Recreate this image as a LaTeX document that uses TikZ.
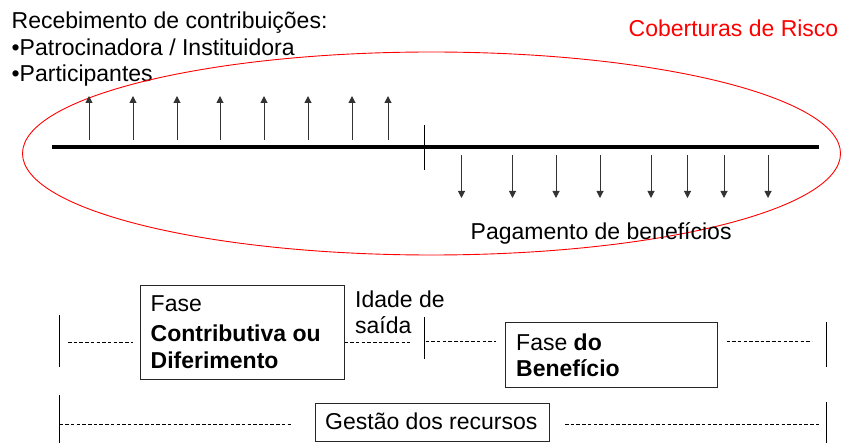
\documentclass[tikz,border=0pt]{standalone}
\usepackage{fontspec}
\setmainfont{Liberation Sans}
\usetikzlibrary{arrows.meta,shapes.geometric}
\begin{document}
\begin{tikzpicture}[x=1pt,y=-1pt,
  txt/.style={font=\fontsize{23}{27}\selectfont, inner sep=0pt, anchor=base west},
  up/.style={draw=black!80, line width=1pt, -{Triangle[width=7pt,length=7pt]}},
  tick/.style={line width=1.3pt},
  dsh/.style={line width=0.7pt, dash pattern=on 3.5pt off 2.2pt},
  boxn/.style={draw=black!85, line width=1pt, inner sep=0pt}]
\useasboundingbox (0,0) rectangle (842,443);
% top texts
\node[txt] (t1) at (11.5,28.5) {Recebimento de contribuições:};
\node[txt] (t2) at (11.5,55.5) {•Patrocinadora / Instituidora};
\node[txt] (t3) at (11.5,82) {•Participantes};
\node[txt, text=red, anchor=base east] (cob) at (838.5,37) {Coberturas de Risco};
% ellipse
\node[draw=red, line width=0.9pt, shape=ellipse, minimum width=818, minimum height=203, inner sep=0pt] (el) at (431.5,153.5) {};
% timeline
\coordinate (tl0) at (52,147);
\coordinate (tl1) at (819,147);
\draw[line width=4pt] (tl0) -- (tl1);
\coordinate (mt) at (424.5,125);
\coordinate (mb) at (424.5,170);
\draw[line width=1.2pt] (mt) -- (mb);
% up arrows
\foreach \x [count=\i] in {89,133,177,220,264,308,352,388}{
  \coordinate (ua\i) at (\x,140);
  \coordinate (ub\i) at (\x,96);
  \draw[up] (ua\i) -- (ub\i);
}
% down arrows
\foreach \x [count=\i] in {461.5,512.5,556,600,651,687.5,724,768}{
  \coordinate (da\i) at (\x,155);
  \coordinate (db\i) at (\x,198);
  \draw[up] (da\i) -- (db\i);
}
\node[txt] (pag) at (470.5,240) {Pagamento de benefícios};
% phases row
\node[boxn, minimum width=204, minimum height=94] (box1) at (242,332) {};
\node[txt] (f1a) at (150.5,311.5) {Fase};
\node[txt] (f1b) at (150.5,341.5) {\bfseries Contributiva ou};
\node[txt] (f1c) at (150.5,368) {\bfseries Diferimento};
\node[txt] (id1) at (355,307.5) {Idade de};
\node[txt] (id2) at (355,333) {saída};
\node[boxn, minimum width=212, minimum height=65.5] (box2) at (611,355) {};
\node[txt] (f2a) at (516,350) {Fase \textbf{do}};
\node[txt] (f2b) at (516,376) {\bfseries Benefício};
\coordinate (lt1) at (59.5,315);
\coordinate (lb1) at (59.5,367);
\draw[tick] (lt1) -- (lb1);
\coordinate (mt1) at (424.5,316.5);
\coordinate (mb1) at (424.5,359);
\draw[tick] (mt1) -- (mb1);
\coordinate (rt1) at (826.5,321.5);
\coordinate (rb1) at (826.5,367);
\draw[tick] (rt1) -- (rb1);
\draw[dsh] (68,342.5) -- (133,342.5);
\draw[dsh] (box1.east |- 0,342) -- (410,342);
\draw[dsh] (425.5,341) -- (496,341);
\draw[dsh] (726.5,341) -- (812,341);
% management row
\coordinate (lt2) at (59.5,395);
\coordinate (lb2) at (59.5,443);
\draw[tick] (lt2) -- (lb2);
\coordinate (rt2) at (826.5,401.5);
\coordinate (rb2) at (826.5,443);
\draw[tick] (rt2) -- (rb2);
\node[boxn, minimum width=233.5, minimum height=38, anchor=north west] (box3) at (315,402.5) {};
\node[txt] (ges) at (325,429.5) {Gestão dos recursos};
\draw[dsh] (lt2 |- 0,424) -- (293,424);
\draw[dsh] (565,424) -- (820,424);
\end{tikzpicture}
\end{document}
